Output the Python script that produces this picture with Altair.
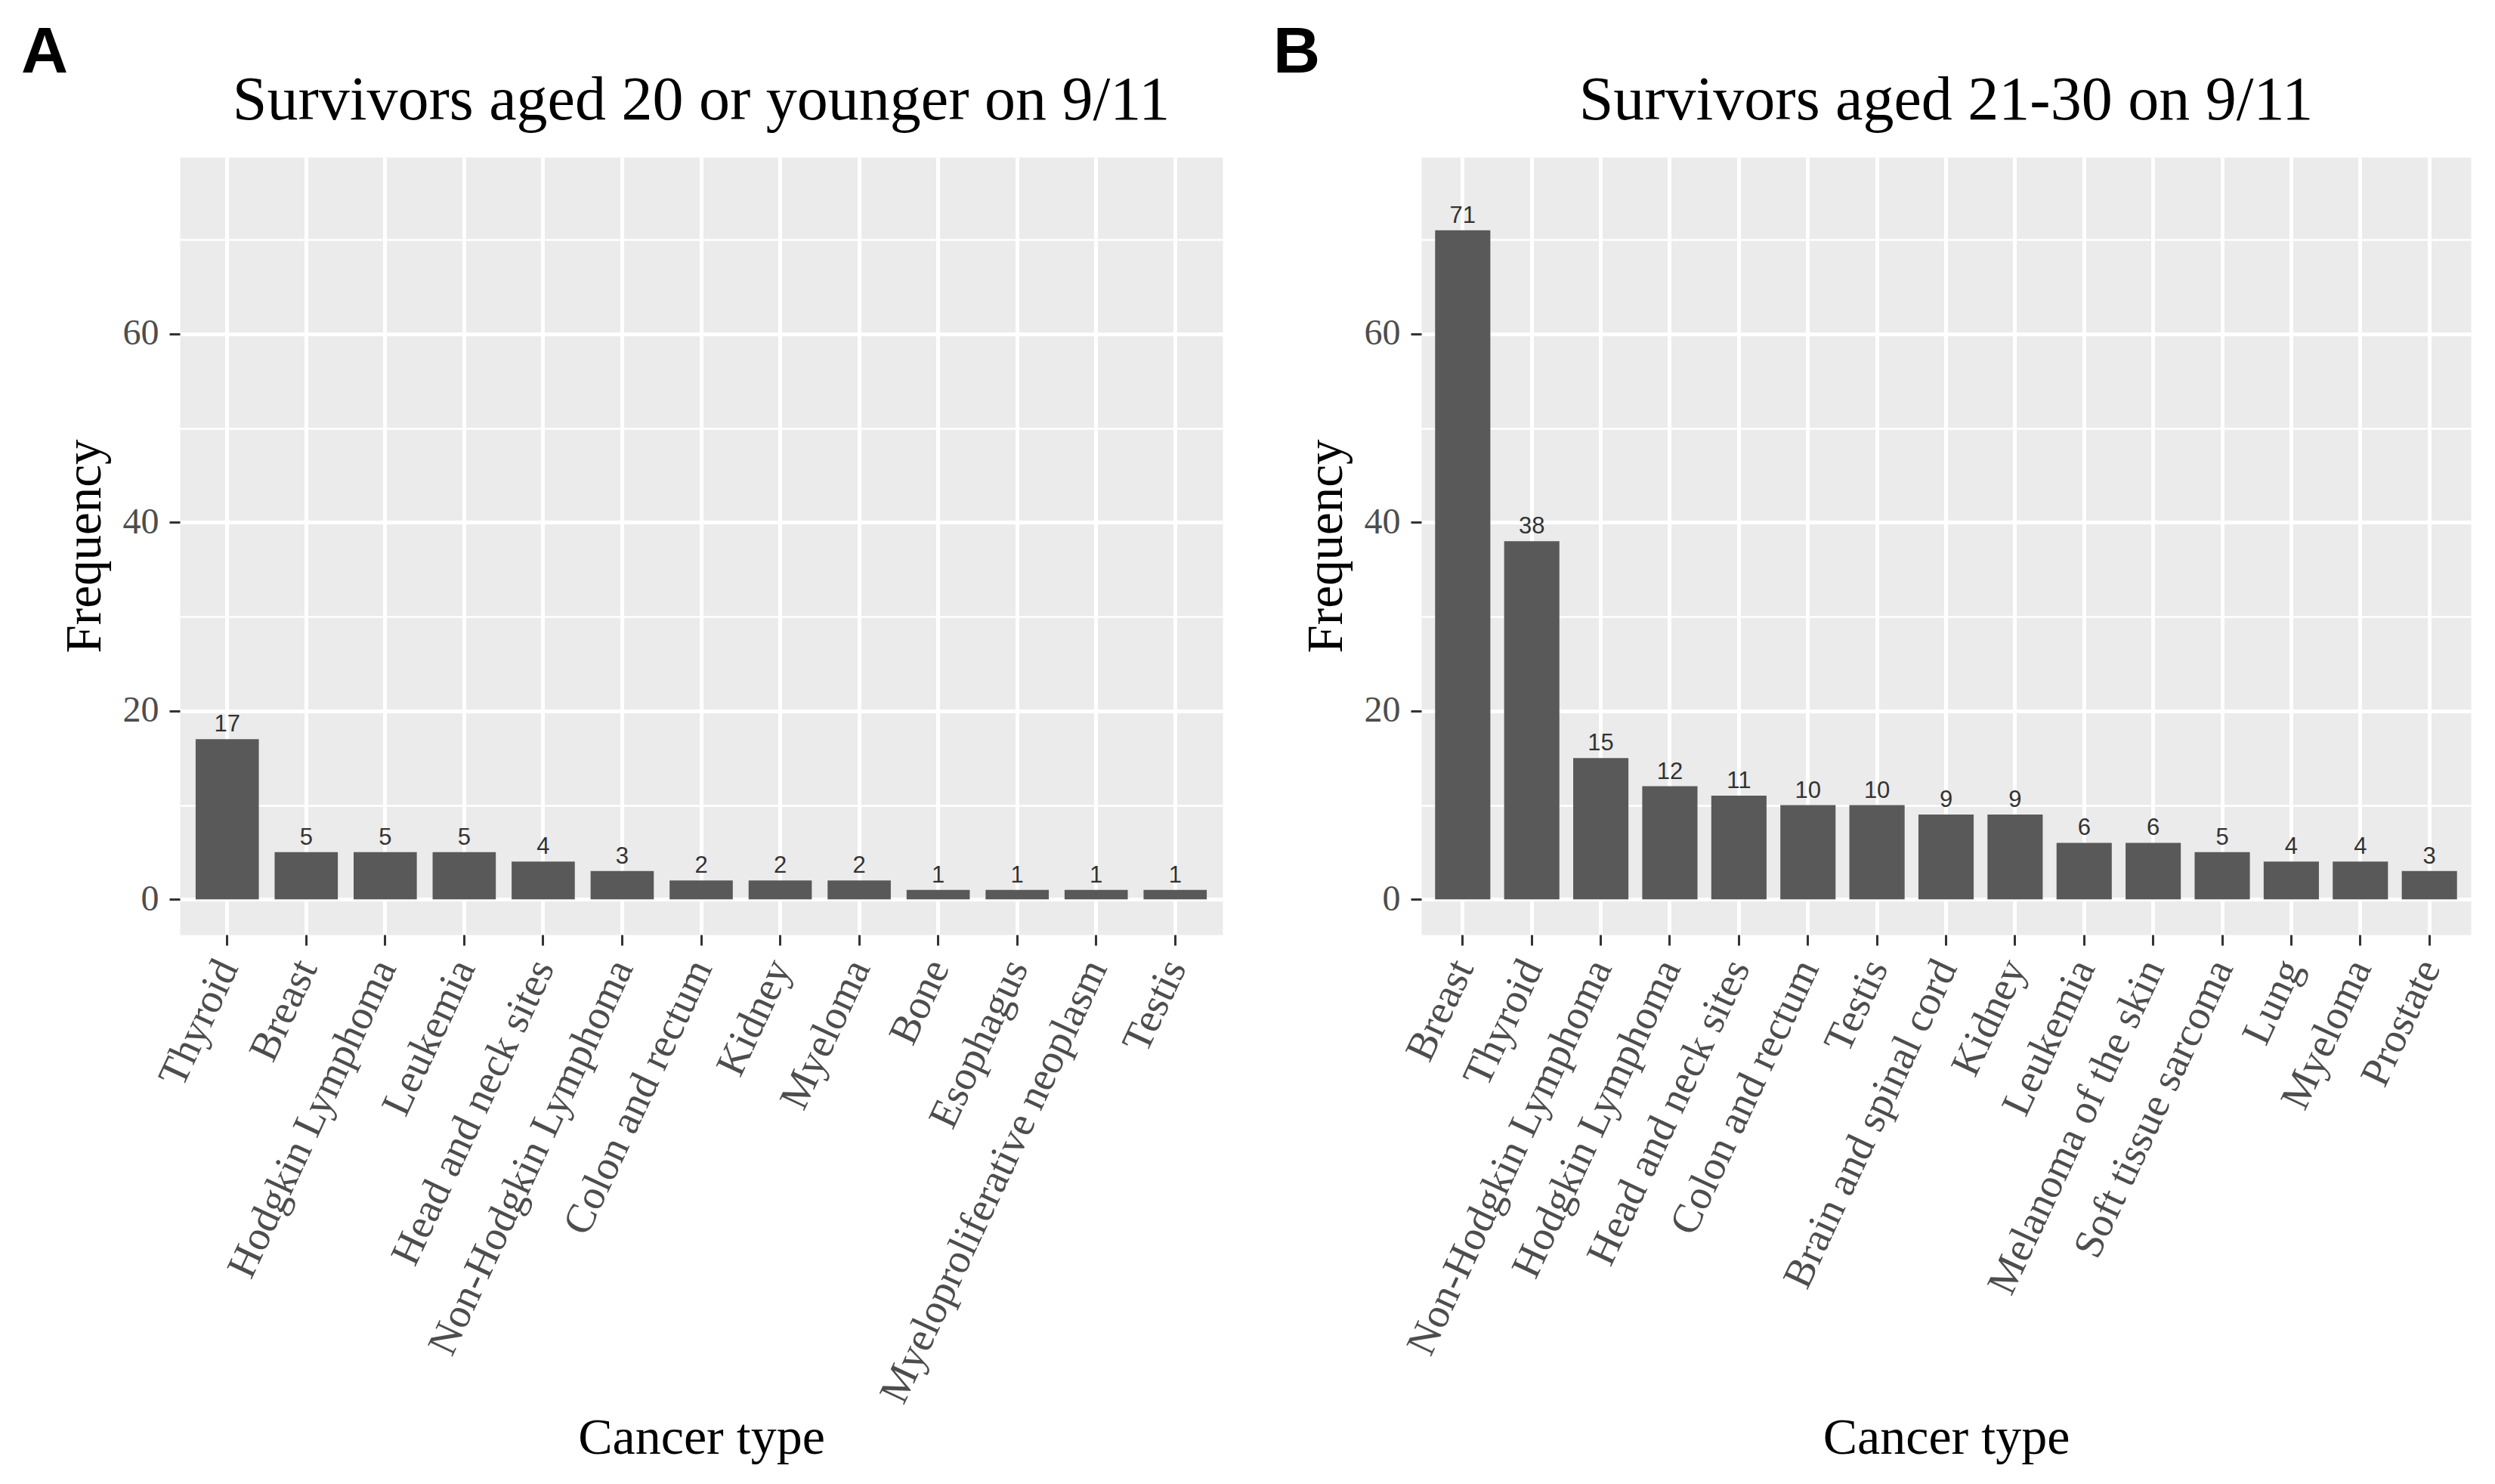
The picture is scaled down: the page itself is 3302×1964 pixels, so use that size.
import altair as alt
import pandas as pd

# ---- data ----
a_types = ["Thyroid", "Breast", "Hodgkin Lymphoma", "Leukemia", "Head and neck sites",
           "Non-Hodgkin Lymphoma", "Colon and rectum", "Kidney", "Myeloma", "Bone",
           "Esophagus", "Myeloproliferative neoplasm", "Testis"]
a_counts = [17, 5, 5, 5, 4, 3, 2, 2, 2, 1, 1, 1, 1]

b_types = ["Breast", "Thyroid", "Non-Hodgkin Lymphoma", "Hodgkin Lymphoma", "Head and neck sites",
           "Colon and rectum", "Testis", "Brain and spinal cord", "Kidney", "Leukemia",
           "Melanoma of the skin", "Soft tissue sarcoma", "Lung", "Myeloma", "Prostate"]
b_counts = [71, 38, 15, 12, 11, 10, 10, 9, 9, 6, 6, 5, 4, 4, 3]

titles = ["Survivors aged 20 or younger on 9/11", "Survivors aged 21-30 on 9/11"]
letters = ["A", "B"]
y_ticks = [0, 10, 20, 30, 40, 50, 60, 70]

SERIF = "Liberation Serif"
SANS = "Liberation Sans"
PANEL_H = 1029


def panel(types, counts, title, letter, width, letter_x):
    df = pd.DataFrame({"type": types, "count": counts})
    x = alt.X("type:N", sort=types,
              scale=alt.Scale(paddingInner=0.2, paddingOuter=0.2),
              axis=alt.Axis(title="Cancer type", labelAngle=-65, labelAlign="right",
                            labelBaseline="middle", labelPadding=22, bandPosition=0.5,
                            labelFontSize=55, titleFontSize=68, titleY=686,
                            titleBaseline="alphabetic", labelLimit=1000))
    y = alt.Y("count:Q",
              scale=alt.Scale(domain=[-3.75, 78.75], nice=False, zero=False),
              axis=alt.Axis(title="Frequency", values=y_ticks,
                            labelExpr="datum.value % 20 === 0 ? datum.label : ''",
                            tickOpacity={"condition": {"test": "datum.value % 20 !== 0", "value": 0}, "value": 1},
                            gridWidth={"condition": {"test": "datum.value % 20 !== 0", "value": 2.5}, "value": 5},
                            labelFontSize=48, titleFontSize=67, labelPadding=14, titlePadding=16))
    bars = alt.Chart(df).mark_bar(color="#595959").encode(x=x, y=y, y2=alt.datum(0))
    labels = alt.Chart(df).mark_text(font=SANS, fontSize=31, color="#333333",
                                     baseline="bottom", dy=-3).encode(
        x=alt.X("type:N", sort=types), y="count:Q", text="count:Q")
    ttl = alt.Chart(pd.DataFrame({"t": [title]})).mark_text(
        font=SERIF, fontSize=82, color="black", align="center", baseline="alphabetic").encode(
        x=alt.value(width / 2), y=alt.value(-50), text="t:N")
    let = alt.Chart(pd.DataFrame({"t": [letter]})).mark_text(
        font=SANS, fontSize=86, fontWeight="bold", color="black", align="left",
        baseline="alphabetic").encode(
        x=alt.value(letter_x), y=alt.value(-112), text="t:N")
    return alt.layer(bars, labels, ttl, let).properties(width=width, height=PANEL_H)


pa = panel(a_types, a_counts, titles[0], letters[0], 1380, -210)
pb = panel(b_types, b_counts, titles[1], letters[1], 1389, -196)

chart = alt.hconcat(pa, pb, spacing=65).properties(
    padding={"left": 19, "top": 18, "right": 5, "bottom": 5}
).configure_view(fill="#EBEBEB", stroke="transparent").configure_axis(
    domain=False, tickColor="#333333", tickWidth=3, tickSize=14,
    labelColor="#4d4d4d", labelFont=SERIF, titleFont=SERIF, titleColor="black",
    titleFontWeight="normal", gridColor="white", gridWidth=5
).configure_axisX(grid=True).configure_axisY(grid=True)

chart.save("out.html", embed_options={"renderer": "svg", "actions": False})
